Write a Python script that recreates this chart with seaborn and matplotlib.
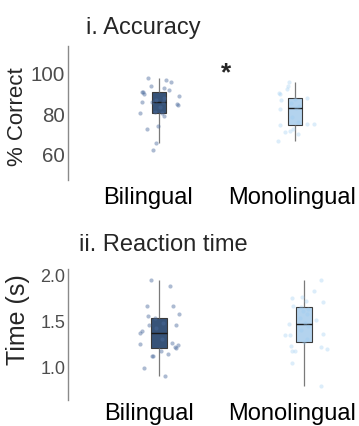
import matplotlib
matplotlib.use("Agg")
import matplotlib.pyplot as plt
import matplotlib.transforms as mtransforms
import seaborn as sns
import pandas as pd

# ---------------- data ----------------
groups = ["Bilingual", "Monolingual"]

acc_bilingual = [62.1, 65.4, 72.2, 73.8, 78.7, 79.8, 79.9, 80.3, 83.0, 84.1, 84.3, 85.2, 85.2,
                 85.4, 86.5, 87.5, 88.1, 89.1, 90.1, 90.4, 91.2, 92.0, 93.3, 95.3, 96.3, 96.9]
acc_bilingual_jitter = [-0.046, -0.024, -0.09, -0.005, 0.039, -0.14, 0.02, -0.03, 0.01, 0.142, 0.136,
                        -0.125, -0.054, 0.03, -0.02, 0.04, 0.149, -0.108, -0.115, -0.125, 0.076,
                        0.035, -0.059, 0.088, 0.049, -0.079]

acc_monolingual = [66.3, 69.8, 70.7, 71.4, 72.2, 74.3, 74.6, 74.6, 75.5, 78.0, 82.0, 82.5, 83.5,
                   85.0, 86.5, 86.9, 87.3, 89.3, 89.8, 91.7, 93.0, 95.3]
acc_monolingual_jitter = [-0.125, 0.022, -0.07, -0.037, -0.013, -0.11, 0.086, 0.14, 0.02, -0.02,
                          -0.11, 0.01, 0.03, -0.03, -0.103, 0.0, 0.086, -0.11, -0.115, -0.06,
                          -0.05, -0.044]

rt_bilingual = [0.90, 0.99, 1.12, 1.12, 1.14, 1.17, 1.20, 1.21, 1.24, 1.25, 1.26, 1.30, 1.37,
                1.39, 1.42, 1.45, 1.45, 1.48, 1.53, 1.55, 1.57, 1.66, 1.66, 1.88, 1.94]
rt_bilingual_jitter = [0.041, -0.103, -0.05, -0.039, 0.064, 0.012, 0.12, 0.11, 0.133, -0.131,
                       0.088, 0.02, -0.131, -0.119, -0.02, -0.071, 0.117, 0.03, -0.03, -0.074,
                       0.14, -0.085, 0.094, 0.076, -0.055]

rt_monolingual = [0.79, 1.04, 1.17, 1.175, 1.19, 1.21, 1.22, 1.27, 1.30, 1.34, 1.35, 1.36, 1.40,
                  1.44, 1.46, 1.48, 1.51, 1.53, 1.57, 1.60, 1.63, 1.65, 1.66, 1.70, 1.71, 1.75,
                  1.76, 1.82, 1.94]
rt_monolingual_jitter = [0.115, -0.085, -0.062, -0.085, 0.157, 0.115, -0.092, 0.0, 0.02, -0.131,
                         -0.097, 0.133, -0.02, 0.03, -0.103, 0.01, 0.083, -0.03, 0.02, -0.01,
                         0.03, -0.02, -0.074, 0.131, 0.012, -0.081, -0.012, 0.069, 0.115]

acc_ticks = [60, 80, 100]
rt_ticks = [1.0, 1.5, 2.0]
titles = ["i. Accuracy", "ii. Reaction time"]
ylabels = ["% Correct", "Time (s)"]

box_colors = {"Bilingual": "#2c5283", "Monolingual": "#a9d4f8"}
point_colors = {"Bilingual": "#4a6a9c", "Monolingual": "#9ccdf3"}
point_alpha = {"Bilingual": 0.45, "Monolingual": 0.35}


def make_df(b, bj, m, mj):
    rows = []
    for v, j in zip(b, bj):
        rows.append(("Bilingual", v, 0 + j))
    for v, j in zip(m, mj):
        rows.append(("Monolingual", v, 1 + j))
    return pd.DataFrame(rows, columns=["group", "value", "xpos"])


df_acc = make_df(acc_bilingual, acc_bilingual_jitter, acc_monolingual, acc_monolingual_jitter)
df_rt = make_df(rt_bilingual, rt_bilingual_jitter, rt_monolingual, rt_monolingual_jitter)

# ---------------- style ----------------
sns.set_theme(style="white")
plt.rcParams['font.family'] = ['Liberation Sans', 'DejaVu Sans']

W, H = 359, 427
fig = plt.figure(figsize=(W / 100, H / 100), dpi=100)
fig.patch.set_facecolor("white")

ax1 = fig.add_axes([68 / W, 1 - 181 / H, (W - 68) / W, 134 / H])
ax2 = fig.add_axes([68 / W, 1 - 401 / H, (W - 68) / W, 131 / H])


def draw(ax, df, ylim, xlim, ticks, fmt, tick_fs, label_offsets, xpad):
    sns.boxplot(data=df, x="group", y="value", hue="group", order=groups, hue_order=groups,
                palette=box_colors, width=0.105, showfliers=False, showcaps=False,
                linewidth=0.8, legend=False, ax=ax,
                boxprops=dict(edgecolor="#3a3a3a", zorder=2),
                whiskerprops=dict(color="#7a7a7a", linewidth=0.9),
                medianprops=dict(color="#1a1a1a", linewidth=1.0))
    for g in groups:
        sub = df[df["group"] == g]
        sns.scatterplot(x=sub["xpos"], y=sub["value"], color=point_colors[g], s=9,
                        alpha=point_alpha[g], linewidth=0, ax=ax, zorder=3, legend=False)
    ax.set_xlim(*xlim)
    ax.set_ylim(*ylim)
    ax.set_yticks(ticks)
    ax.set_yticklabels([fmt.format(t) for t in ticks], fontsize=tick_fs, color="#4d4d4d")
    ax.set_xticks([0, 1])
    ax.set_xticklabels(groups, fontsize=17, color="black")
    ax.tick_params(axis="both", length=0)
    ax.tick_params(axis="y", pad=2)
    ax.tick_params(axis="x", pad=xpad)
    ax.set_xlabel("")
    ax.set_ylabel("")
    for s in ["top", "right", "bottom"]:
        ax.spines[s].set_visible(False)
    ax.spines["left"].set_color("#8a8a8a")
    ax.spines["left"].set_linewidth(1.0)
    ax.set_facecolor("white")
    for lbl, dx in zip(ax.get_xticklabels(), label_offsets):
        lbl.set_transform(lbl.get_transform() +
                          mtransforms.ScaledTranslation(dx / 100, 0, fig.dpi_scale_trans))


draw(ax1, df_acc, (47.3, 112.7), (-91 / 136, 200 / 136), acc_ticks, "{:.0f}", 14.8, [-11, -3], 4)
draw(ax2, df_rt, (0.64, 2.06), (-91 / 145, 200 / 145), rt_ticks, "{:.1f}", 13, [-10.5, -11.5], 1.5)

# titles
fig.text(86 / W, 1 - 34 / H, titles[0], fontsize=17, ha="left", va="baseline")
fig.text(79 / W, 1 - 251 / H, titles[1], fontsize=17, ha="left", va="baseline")

# y labels
fig.text(18 / W, 1 - 117 / H, ylabels[0], fontsize=16, rotation=90, ha="center", va="center")
fig.text(18 / W, 1 - 320 / H, ylabels[1], fontsize=18, rotation=90, ha="center", va="center")

# significance marker
fig.text(226 / W, 1 - 80 / H, "*", fontsize=19, fontweight="bold", ha="center", va="baseline")

fig.savefig("out.png", dpi=100, facecolor="white")
